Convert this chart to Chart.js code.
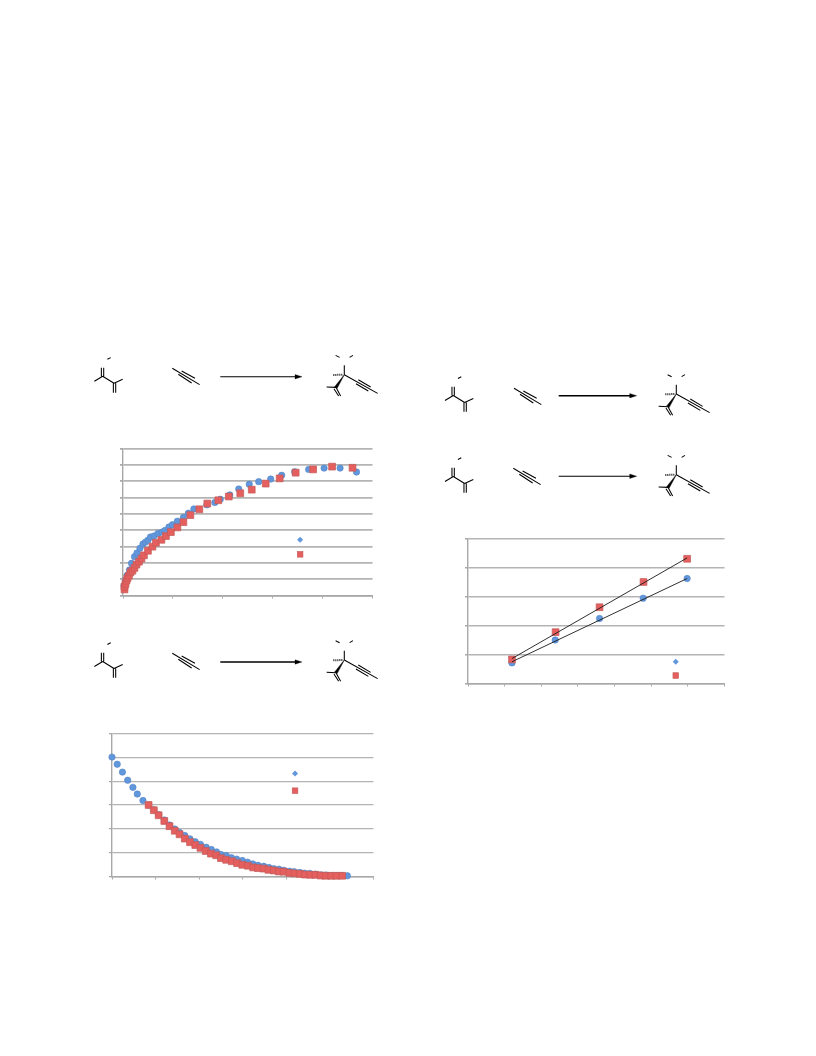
<!DOCTYPE html>
<html>
<head>
<meta charset="utf-8">
<title>Chart</title>
<script src="https://cdn.jsdelivr.net/npm/chart.js@4/dist/chart.umd.min.js"></script>
<style>
  html, body { margin: 0; padding: 0; background: #fff; }
  body { position: relative; width: 816px; height: 1056px; overflow: hidden; }
  .box { position: absolute; }
  .box canvas { filter: blur(0.5px); }
  #schemes { position: absolute; left: 0; top: 0; filter: blur(0.4px); }
</style>
</head>
<body>
<svg id="schemes" width="816" height="1056"></svg>
<div class="box" id="box1" style="left:116px;top:443px;width:262px;height:158px"><canvas id="chart1"></canvas></div>
<div class="box" id="box2" style="left:105px;top:728px;width:274px;height:154px"><canvas id="chart2"></canvas></div>
<div class="box" id="box3" style="left:461px;top:533px;width:269px;height:156px"><canvas id="chart3"></canvas></div>

<script>
// Grafico 1
const growthBlueX = [0.02, 0.05, 0.08, 0.13, 0.17, 0.23, 0.28, 0.34, 0.40, 0.45, 0.50, 0.55, 0.62, 0.70, 0.78, 0.84, 0.92, 0.99, 1.09, 1.21, 1.31, 1.42, 1.68, 1.84, 1.95, 2.14, 2.32, 2.53, 2.72, 2.96, 3.18, 3.44, 3.72, 4.03, 4.35, 4.68];
const growthBlueY = [0.61, 0.91, 1.22, 1.57, 1.97, 2.38, 2.60, 2.89, 3.15, 3.27, 3.39, 3.58, 3.64, 3.80, 3.88, 3.98, 4.19, 4.33, 4.55, 4.78, 5.04, 5.30, 5.55, 5.69, 5.89, 6.16, 6.52, 6.81, 6.97, 7.13, 7.36, 7.58, 7.72, 7.80, 7.80, 7.56];
const growthRedX = [0.03, 0.03, 0.05, 0.07, 0.09, 0.12, 0.15, 0.19, 0.23, 0.27, 0.32, 0.37, 0.42, 0.50, 0.59, 0.66, 0.77, 0.86, 0.96, 1.09, 1.21, 1.35, 1.53, 1.69, 1.91, 2.12, 2.35, 2.58, 2.86, 3.14, 3.46, 3.81, 4.19, 4.60];
const growthRedY = [0.37, 0.55, 0.71, 0.91, 1.06, 1.22, 1.42, 1.52, 1.69, 1.89, 2.07, 2.26, 2.46, 2.74, 2.99, 3.23, 3.41, 3.64, 3.88, 4.17, 4.49, 4.92, 5.28, 5.63, 5.83, 6.06, 6.26, 6.48, 6.85, 7.17, 7.52, 7.72, 7.89, 7.82];

// Grafico 2
const decayBlueX = [0, 0.12, 0.24, 0.36, 0.48, 0.58, 0.71, 0.84, 0.96, 1.07, 1.20, 1.32, 1.44, 1.55, 1.67, 1.79, 1.91, 2.03, 2.16, 2.28, 2.40, 2.50, 2.62, 2.74, 2.86, 2.99, 3.11, 3.23, 3.35, 3.48, 3.60, 3.71, 3.83, 3.94, 4.07, 4.18, 4.31, 4.42, 4.54, 4.67, 4.79, 4.91, 5.03, 5.16, 5.28, 5.40];
const decayBlueY = [5.01, 4.71, 4.38, 4.04, 3.74, 3.46, 3.19, 3.00, 2.80, 2.59, 2.37, 2.16, 1.99, 1.85, 1.72, 1.58, 1.46, 1.35, 1.23, 1.13, 1.03, 0.92, 0.88, 0.79, 0.73, 0.67, 0.60, 0.53, 0.47, 0.43, 0.38, 0.33, 0.31, 0.26, 0.22, 0.20, 0.17, 0.14, 0.13, 0.10, 0.07, 0.06, 0.04, 0.04, 0.04, 0.03];
const decayRedX = [0.84, 0.96, 1.07, 1.20, 1.32, 1.44, 1.55, 1.67, 1.79, 1.91, 2.03, 2.15, 2.27, 2.39, 2.50, 2.62, 2.75, 2.87, 2.99, 3.12, 3.24, 3.35, 3.48, 3.59, 3.71, 3.83, 3.94, 4.07, 4.19, 4.31, 4.43, 4.55, 4.67, 4.79, 4.90, 5.03, 5.15, 5.28];
const decayRedY = [3.00, 2.78, 2.57, 2.33, 2.11, 1.92, 1.77, 1.59, 1.44, 1.32, 1.20, 1.07, 0.96, 0.89, 0.77, 0.70, 0.64, 0.56, 0.49, 0.45, 0.38, 0.35, 0.33, 0.28, 0.25, 0.21, 0.20, 0.15, 0.13, 0.11, 0.08, 0.07, 0.07, 0.04, 0.03, 0.03, 0.03, 0.03];

// Grafico 3
const lineBlueX = [1.20, 2.38, 3.59, 4.78, 5.98];
const lineBlueY = [0.71, 1.50, 2.24, 2.94, 3.62];
const lineRedX = [1.20, 2.39, 3.59, 4.79, 5.98];
const lineRedY = [0.83, 1.77, 2.63, 3.50, 4.30];
const trendX = [1.20, 5.98];
const trendBlueY = [0.75, 3.62];
const trendRedY = [0.86, 4.33];

const BLUE_FILL = '#6197dc';
const BLUE_EDGE = '#5585c4';
const RED_FILL = '#e65f5f';
const RED_EDGE = '#c25a58';
const GRID = '#b4b4b4';
const AXIS = '#a8a8a8';

function toPoints(xs, ys) {
    return xs.map((x, i) => ({ x: x, y: ys[i] }));
}

function blueSeries(xs, ys) {
    return {
        type: 'scatter', label: '', data: toPoints(xs, ys), clip: false,
        pointStyle: 'circle', pointRadius: 3.2,
        backgroundColor: BLUE_FILL, borderColor: BLUE_EDGE, borderWidth: 0.6
    };
}

function redSeries(xs, ys) {
    return {
        type: 'scatter', label: '', data: toPoints(xs, ys), clip: false,
        pointStyle: 'rect', pointRadius: 4.8,
        backgroundColor: RED_FILL, borderColor: RED_EDGE, borderWidth: 0.7
    };
}

// Marcas de la leyenda, sin texto como en el original
const legendMarks = {
    id: 'legendMarks',
    afterDatasetsDraw(chart, args, opts) {
        const ctx = chart.ctx;
        const area = chart.chartArea;
        ctx.save();
        // rombo azul
        const bx = area.left + opts.x * area.width;
        const by = area.top + opts.blueY * area.height;
        ctx.fillStyle = BLUE_FILL;
        ctx.beginPath();
        ctx.moveTo(bx, by - 3);
        ctx.lineTo(bx + 3, by);
        ctx.lineTo(bx, by + 3);
        ctx.lineTo(bx - 3, by);
        ctx.closePath();
        ctx.fill();
        // cuadrado rojo
        const ry = area.top + opts.redY * area.height;
        ctx.fillStyle = RED_FILL;
        ctx.strokeStyle = RED_EDGE;
        ctx.lineWidth = 0.6;
        ctx.fillRect(bx - 2.8, ry - 2.8, 5.6, 5.6);
        ctx.strokeRect(bx - 2.8, ry - 2.8, 5.6, 5.6);
        ctx.restore();
    }
};

function createChart(id, datasets, xMax, xStep, yMax, legendPos, gridWidth) {
    const ctx = document.getElementById(id).getContext('2d');
    return new Chart(ctx, {
        type: 'scatter',
        data: { datasets: datasets },
        plugins: [legendMarks],
        options: {
            responsive: true,
            maintainAspectRatio: false,
            animation: false,
            layout: { padding: { left: 4, top: 4, right: 4, bottom: 1 } },
            plugins: {
                legend: { display: false },
                tooltip: { enabled: false },
                legendMarks: legendPos
            },
            scales: {
                x: {
                    type: 'linear', min: 0, max: xMax,
                    ticks: { display: false, stepSize: xStep },
                    grid: { drawOnChartArea: false, drawTicks: true, tickLength: 3, tickColor: AXIS, tickWidth: 1 },
                    border: { color: AXIS, width: 1.4 }
                },
                y: {
                    type: 'linear', min: 0, max: yMax,
                    ticks: { display: false, stepSize: 1 },
                    grid: { color: GRID, lineWidth: gridWidth, drawTicks: true, tickLength: 3, tickColor: AXIS },
                    border: { color: AXIS, width: 1.4 }
                }
            }
        }
    });
}

createChart('chart1',
    [redSeries(growthRedX, growthRedY), blueSeries(growthBlueX, growthBlueY)],
    5, 1, 9, { x: 0.71, blueY: 0.62, redY: 0.72 }, 1.7);

createChart('chart2',
    [redSeries(decayRedX, decayRedY), blueSeries(decayBlueX, decayBlueY)],
    6, 1, 6, { x: 0.70, blueY: 0.28, redY: 0.40 }, 1.2);

const trendLine = (ys) => ({
    type: 'line', label: '', data: toPoints(trendX, ys), clip: false,
    borderColor: '#1a1a1a', borderWidth: 0.9, pointRadius: 0, showLine: true, fill: false
});

createChart('chart3',
    [trendLine(trendRedY), trendLine(trendBlueY), redSeries(lineRedX, lineRedY), blueSeries(lineBlueX, lineBlueY)],
    7, 1, 5, { x: 0.81, blueY: 0.85, redY: 0.945 }, 1.4);

// Esquemas de reaccion (dibujo decorativo, no son datos)
const svg = document.getElementById('schemes');

function addPath(d, width, fill) {
    const p = document.createElementNS('http://www.w3.org/2000/svg', 'path');
    p.setAttribute('d', d);
    p.setAttribute('stroke', '#000');
    p.setAttribute('stroke-width', width);
    p.setAttribute('fill', fill || 'none');
    svg.appendChild(p);
}

function shifted(x, y, segs) {
    return segs.map(s => 'M' + (x + s[0] / 3) + ' ' + (y + s[1] / 3) + 'L' + (x + s[2] / 3) + ' ' + (y + s[3] / 3)).join('');
}

function drawReactant(x, y) {
    addPath(shifted(x, y, [[-25, 15, 0, 0], [0, 0, 34, 21], [34, 21, 60, 9],
        [-4, 0, -4, -26], [3, 0, 3, -26], [32, 21, 32, 49], [39, 21, 39, 49], [14, -51, 24, -56]]), 1.05);
}

function drawAlkyne(x, y) {
    addPath(shifted(x, y, [[0, 0, 82, 49], [28, 8, 68, 30], [18, 18, 58, 44]]), 1.05);
}

function drawArrow(x1, x2, y, width) {
    addPath('M' + x1 + ' ' + y + 'L' + (x2 - 6) + ' ' + y, width);
    addPath('M' + (x2 - 7) + ' ' + (y - 2.2) + 'L' + x2 + ' ' + y + 'L' + (x2 - 7) + ' ' + (y + 2.2) + 'Z', 0.3, '#000');
}

function drawProduct(x, y) {
    addPath(shifted(x, y, [[0, 0, 0, -28], [-26, -58, -14, -52], [16, -52, 26, -58],
        [0, 0, 100, 56], [42, 15, 79, 37], [35, 27, 72, 49],
        [-25, 38, -53, 37], [-25, 38, -11, 64], [-31, 42, -17, 64]]), 1.05);
    addPath(shifted(x, y, [[-6, 0, -36, 1]]), 2);
    svg.lastChild.setAttribute('stroke-dasharray', '0.9 1.1');
    const d = 'M' + x + ' ' + y + 'L' + (x - 9.6) + ' ' + (y + 12) + 'L' + (x - 7.2) + ' ' + (y + 13.6) + 'Z';
    addPath(d, 0.5, '#000');
}

const schemeRows = [
    { rx: 102.7, ry: 376.3, ax: 172.3, ay: 368.3, a1: 220.3, a2: 302, ay2: 376.7, px: 344.3, py: 374.7, w: 1.1 },
    { rx: 102.7, ry: 661.5, ax: 172.3, ay: 653.3, a1: 220.3, a2: 302, ay2: 662, px: 344.3, py: 660, w: 1.5 },
    { rx: 453.3, ry: 395.5, ax: 514, ay: 388.3, a1: 558.7, a2: 636.7, ay2: 395.7, px: 676.3, py: 394, w: 1.5 },
    { rx: 453.3, ry: 476.5, ax: 513.3, ay: 468.3, a1: 558.7, a2: 636.7, ay2: 476.3, px: 676.3, py: 474.7, w: 1.1 }
];

schemeRows.forEach(r => {
    drawReactant(r.rx, r.ry);
    drawAlkyne(r.ax, r.ay);
    drawArrow(r.a1, r.a2, r.ay2, r.w);
    drawProduct(r.px, r.py);
});
</script>
</body>
</html>
